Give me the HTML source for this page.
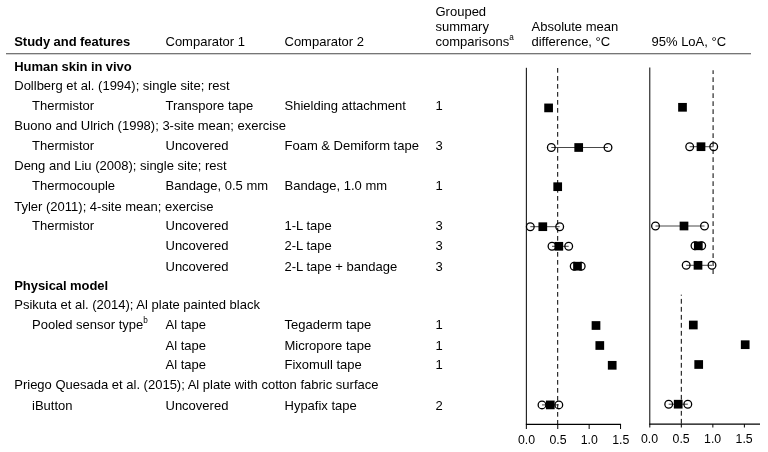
<!DOCTYPE html>
<html><head><meta charset="utf-8"><title>Table</title>
<style>
html,body{margin:0;padding:0;background:#fff;}
body{width:768px;height:452px;position:relative;overflow:hidden;font-family:"Liberation Sans",sans-serif;font-size:13px;color:#000;}
.t{position:absolute;white-space:nowrap;line-height:16px;height:16px;}
.b{font-weight:bold;letter-spacing:-0.06px;}
.c{text-align:center;}
.k{font-size:12.3px;}
sup{font-size:8.2px;line-height:0;vertical-align:baseline;position:relative;top:-6px;}
svg{position:absolute;left:0;top:0;}
</style></head><body>
<svg width="768" height="452" viewBox="0 0 768 452">
<line x1="6" y1="53.7" x2="751" y2="53.7" stroke="#484848" stroke-width="1.05" />
<line x1="526.35" y1="67.8" x2="526.35" y2="424.5" stroke="#000" stroke-width="1" />
<line x1="649.8" y1="67.5" x2="649.8" y2="424.5" stroke="#000" stroke-width="1" />
<line x1="525.85" y1="424.4" x2="621.05" y2="424.4" stroke="#000" stroke-width="1.1" />
<line x1="649.3" y1="424.1" x2="760" y2="424.1" stroke="#000" stroke-width="1.1" />
<line x1="526.35" y1="424.4" x2="526.35" y2="429" stroke="#000" stroke-width="1" />
<line x1="649.8" y1="424.1" x2="649.8" y2="427.5" stroke="#000" stroke-width="1" />
<line x1="557.75" y1="424.4" x2="557.75" y2="429" stroke="#000" stroke-width="1" />
<line x1="681.3249999999999" y1="424.1" x2="681.3249999999999" y2="427.5" stroke="#000" stroke-width="1" />
<line x1="589.15" y1="424.4" x2="589.15" y2="429" stroke="#000" stroke-width="1" />
<line x1="712.8499999999999" y1="424.1" x2="712.8499999999999" y2="427.5" stroke="#000" stroke-width="1" />
<line x1="620.55" y1="424.4" x2="620.55" y2="429" stroke="#000" stroke-width="1" />
<line x1="744.375" y1="424.1" x2="744.375" y2="427.5" stroke="#000" stroke-width="1" />
<line x1="557.7" y1="68" x2="557.7" y2="424.4" stroke="#000" stroke-width="1.0" stroke-dasharray="4.7 3.3"/>
<line x1="713.1" y1="70.3" x2="713.1" y2="274.8" stroke="#222" stroke-width="1.15" stroke-dasharray="4.9 3.1" stroke-dashoffset="1.1"/>
<line x1="681.3" y1="294.7" x2="681.3" y2="424" stroke="#000" stroke-width="1.0" stroke-dasharray="4.8 3.2" stroke-dashoffset="3.8"/>
<rect x="544.25" y="103.55" width="8.7" height="8.7" fill="#000"/>
<line x1="551.3" y1="147.5" x2="608.0" y2="147.5" stroke="#333" stroke-width="0.9" />
<circle cx="551.30" cy="147.50" r="3.85" fill="none" stroke="#000" stroke-width="1.3"/>
<circle cx="608.00" cy="147.50" r="3.85" fill="none" stroke="#000" stroke-width="1.3"/>
<rect x="574.35" y="143.15" width="8.7" height="8.7" fill="#000"/>
<rect x="553.35" y="182.35" width="8.7" height="8.7" fill="#000"/>
<line x1="530.3" y1="226.7" x2="559.7" y2="226.7" stroke="#333" stroke-width="0.9" />
<circle cx="530.30" cy="226.70" r="3.85" fill="none" stroke="#000" stroke-width="1.3"/>
<circle cx="559.70" cy="226.70" r="3.85" fill="none" stroke="#000" stroke-width="1.3"/>
<rect x="538.45" y="222.35" width="8.7" height="8.7" fill="#000"/>
<line x1="552.0" y1="246.3" x2="568.7" y2="246.3" stroke="#333" stroke-width="0.9" />
<circle cx="552.00" cy="246.30" r="3.85" fill="none" stroke="#000" stroke-width="1.3"/>
<circle cx="568.70" cy="246.30" r="3.85" fill="none" stroke="#000" stroke-width="1.3"/>
<rect x="554.45" y="241.95" width="8.7" height="8.7" fill="#000"/>
<line x1="574.2" y1="266.2" x2="581.2" y2="266.2" stroke="#333" stroke-width="0.9" />
<circle cx="574.20" cy="266.20" r="3.85" fill="none" stroke="#000" stroke-width="1.3"/>
<circle cx="581.20" cy="266.20" r="3.85" fill="none" stroke="#000" stroke-width="1.3"/>
<rect x="573.15" y="261.85" width="8.7" height="8.7" fill="#000"/>
<rect x="591.65" y="321.15" width="8.7" height="8.7" fill="#000"/>
<rect x="595.45" y="341.15" width="8.7" height="8.7" fill="#000"/>
<rect x="607.85" y="360.95" width="8.7" height="8.7" fill="#000"/>
<line x1="542.0" y1="404.9" x2="558.8" y2="404.9" stroke="#333" stroke-width="0.9" />
<circle cx="542.00" cy="404.90" r="3.85" fill="none" stroke="#000" stroke-width="1.3"/>
<circle cx="558.80" cy="404.90" r="3.85" fill="none" stroke="#000" stroke-width="1.3"/>
<rect x="545.95" y="400.55" width="8.7" height="8.7" fill="#000"/>
<rect x="678.15" y="102.95" width="8.7" height="8.7" fill="#000"/>
<line x1="689.7" y1="146.7" x2="713.7" y2="146.7" stroke="#333" stroke-width="0.9" />
<circle cx="689.70" cy="146.70" r="3.85" fill="none" stroke="#000" stroke-width="1.3"/>
<circle cx="713.70" cy="146.70" r="3.85" fill="none" stroke="#000" stroke-width="1.3"/>
<rect x="696.65" y="142.35" width="8.7" height="8.7" fill="#000"/>
<line x1="655.5" y1="226.0" x2="704.5" y2="226.0" stroke="#333" stroke-width="0.9" />
<circle cx="655.50" cy="226.00" r="3.85" fill="none" stroke="#000" stroke-width="1.3"/>
<circle cx="704.50" cy="226.00" r="3.85" fill="none" stroke="#000" stroke-width="1.3"/>
<rect x="679.65" y="221.65" width="8.7" height="8.7" fill="#000"/>
<line x1="695.0" y1="245.8" x2="701.7" y2="245.8" stroke="#333" stroke-width="0.9" />
<circle cx="695.00" cy="245.80" r="3.85" fill="none" stroke="#000" stroke-width="1.3"/>
<circle cx="701.70" cy="245.80" r="3.85" fill="none" stroke="#000" stroke-width="1.3"/>
<rect x="693.95" y="241.45" width="8.7" height="8.7" fill="#000"/>
<line x1="686.2" y1="265.3" x2="712.0" y2="265.3" stroke="#333" stroke-width="0.9" />
<circle cx="686.20" cy="265.30" r="3.85" fill="none" stroke="#000" stroke-width="1.3"/>
<circle cx="712.00" cy="265.30" r="3.85" fill="none" stroke="#000" stroke-width="1.3"/>
<rect x="693.65" y="260.95" width="8.7" height="8.7" fill="#000"/>
<rect x="688.95" y="320.65" width="8.7" height="8.7" fill="#000"/>
<rect x="740.85" y="340.35" width="8.7" height="8.7" fill="#000"/>
<rect x="694.35" y="360.15" width="8.7" height="8.7" fill="#000"/>
<line x1="668.7" y1="404.2" x2="687.8" y2="404.2" stroke="#333" stroke-width="0.9" />
<circle cx="668.70" cy="404.20" r="3.85" fill="none" stroke="#000" stroke-width="1.3"/>
<circle cx="687.80" cy="404.20" r="3.85" fill="none" stroke="#000" stroke-width="1.3"/>
<rect x="673.85" y="399.85" width="8.7" height="8.7" fill="#000"/>
</svg>
<div class="t b" style="left:14.25px;top:33.80px">Study and features</div>
<div class="t" style="left:165.5px;top:33.80px">Comparator 1</div>
<div class="t" style="left:284.5px;top:33.80px">Comparator 2</div>
<div class="t" style="left:435.5px;top:3.80px">Grouped</div>
<div class="t" style="left:435.5px;top:18.80px">summary</div>
<div class="t" style="left:435.5px;top:33.80px">comparisons<sup>a</sup></div>
<div class="t" style="left:531.5px;top:18.80px">Absolute mean</div>
<div class="t" style="left:531.5px;top:33.80px">difference, °C</div>
<div class="t" style="left:651.5px;top:33.80px">95% LoA, °C</div>
<div class="t b" style="left:14.25px;top:58.80px">Human skin in vivo</div>
<div class="t" style="left:14.25px;top:77.80px">Dollberg et al. (1994); single site; rest</div>
<div class="t" style="left:32px;top:97.80px">Thermistor</div>
<div class="t" style="left:165.5px;top:97.80px">Transpore tape</div>
<div class="t" style="left:284.5px;top:97.80px">Shielding attachment</div>
<div class="t" style="left:435.5px;top:97.80px">1</div>
<div class="t" style="left:14.25px;top:117.80px">Buono and Ulrich (1998); 3-site mean; exercise</div>
<div class="t" style="left:32px;top:137.80px">Thermistor</div>
<div class="t" style="left:165.5px;top:137.80px">Uncovered</div>
<div class="t" style="left:284.5px;top:137.80px">Foam &amp; Demiform tape</div>
<div class="t" style="left:435.5px;top:137.80px">3</div>
<div class="t" style="left:14.25px;top:157.80px">Deng and Liu (2008); single site; rest</div>
<div class="t" style="left:32px;top:177.80px">Thermocouple</div>
<div class="t" style="left:165.5px;top:177.80px">Bandage, 0.5 mm</div>
<div class="t" style="left:284.5px;top:177.80px">Bandage, 1.0 mm</div>
<div class="t" style="left:435.5px;top:177.80px">1</div>
<div class="t" style="left:14.25px;top:198.80px">Tyler (2011); 4-site mean; exercise</div>
<div class="t" style="left:32px;top:217.80px">Thermistor</div>
<div class="t" style="left:165.5px;top:217.80px">Uncovered</div>
<div class="t" style="left:284.5px;top:217.80px">1-L tape</div>
<div class="t" style="left:435.5px;top:217.80px">3</div>
<div class="t" style="left:165.5px;top:237.80px">Uncovered</div>
<div class="t" style="left:284.5px;top:237.80px">2-L tape</div>
<div class="t" style="left:435.5px;top:237.80px">3</div>
<div class="t" style="left:165.5px;top:258.80px">Uncovered</div>
<div class="t" style="left:284.5px;top:258.80px">2-L tape + bandage</div>
<div class="t" style="left:435.5px;top:258.80px">3</div>
<div class="t b" style="left:14.25px;top:277.80px">Physical model</div>
<div class="t" style="left:14.25px;top:296.80px">Psikuta et al. (2014); Al plate painted black</div>
<div class="t" style="left:32px;top:316.80px">Pooled sensor type<sup>b</sup></div>
<div class="t" style="left:165.5px;top:316.80px">Al tape</div>
<div class="t" style="left:284.5px;top:316.80px">Tegaderm tape</div>
<div class="t" style="left:435.5px;top:316.80px">1</div>
<div class="t" style="left:165.5px;top:337.80px">Al tape</div>
<div class="t" style="left:284.5px;top:337.80px">Micropore tape</div>
<div class="t" style="left:435.5px;top:337.80px">1</div>
<div class="t" style="left:165.5px;top:356.80px">Al tape</div>
<div class="t" style="left:284.5px;top:356.80px">Fixomull tape</div>
<div class="t" style="left:435.5px;top:356.80px">1</div>
<div class="t" style="left:14.25px;top:376.80px">Priego Quesada et al. (2015); Al plate with cotton fabric surface</div>
<div class="t" style="left:32px;top:397.80px">iButton</div>
<div class="t" style="left:165.5px;top:397.80px">Uncovered</div>
<div class="t" style="left:284.5px;top:397.80px">Hypafix tape</div>
<div class="t" style="left:435.5px;top:397.80px">2</div>
<div class="t c k" style="left:506.55px;top:431.5px;width:40px">0.0</div>
<div class="t c k" style="left:629.60px;top:430.90px;width:40px">0.0</div>
<div class="t c k" style="left:537.95px;top:431.5px;width:40px">0.5</div>
<div class="t c k" style="left:661.12px;top:430.90px;width:40px">0.5</div>
<div class="t c k" style="left:569.35px;top:431.5px;width:40px">1.0</div>
<div class="t c k" style="left:692.65px;top:430.90px;width:40px">1.0</div>
<div class="t c k" style="left:600.75px;top:431.5px;width:40px">1.5</div>
<div class="t c k" style="left:724.17px;top:430.90px;width:40px">1.5</div>
</body></html>
